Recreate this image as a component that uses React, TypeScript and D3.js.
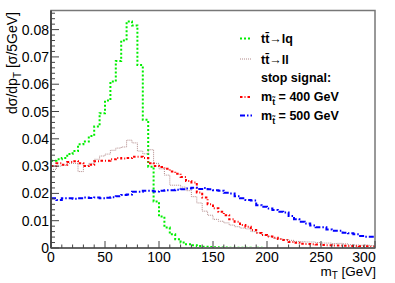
import React from 'react';
import * as d3 from 'd3';

// 5 GeV bins from 0 to 300 GeV, normalised distributions
const BIN_WIDTH = 5;
const TTBAR_LQ = [
  0.032, 0.0325, 0.033, 0.0344, 0.0355, 0.038, 0.039, 0.041, 0.0445, 0.0494,
  0.054, 0.061, 0.0685, 0.076, 0.083, 0.0815, 0.067, 0.047, 0.0298, 0.017,
  0.0115, 0.0075, 0.005, 0.0032, 0.002, 0.0014, 0.001, 0.0007, 0.0005, 0.0004,
  0.0003, 0.0002, 0.0002, 0.0001, 0.0001, 0.0001, 0.0001, 0, 0.0001, 0,
  0, 0, 0, 0, 0, 0, 0, 0, 0, 0,
  0, 0, 0, 0, 0, 0, 0, 0, 0, 0,
];
const TTBAR_LL = [
  0.0288, 0.030, 0.0303, 0.031, 0.031, 0.028, 0.0302, 0.031, 0.0325, 0.0337,
  0.0344, 0.0358, 0.0366, 0.037, 0.0395, 0.0385, 0.0355, 0.0345, 0.036, 0.031,
  0.029, 0.0267, 0.023, 0.023, 0.0223, 0.021, 0.0188, 0.0165, 0.0135, 0.012,
  0.0105, 0.0098, 0.0092, 0.0084, 0.0078, 0.0073, 0.007, 0.006, 0.0056, 0.0047,
  0.0043, 0.0036, 0.0033, 0.0031, 0.0028, 0.0024, 0.0023, 0.0022, 0.0022, 0.002,
  0.0018, 0.0018, 0.0016, 0.0017, 0.0015, 0.0012, 0.0011, 0.001, 0.0011, 0.0009,
];
const STOP_400 = [
  0.030, 0.031, 0.0305, 0.0315, 0.0318, 0.031, 0.030, 0.0305, 0.0318, 0.032,
  0.032, 0.0325, 0.033, 0.0328, 0.033, 0.0334, 0.0334, 0.033, 0.031, 0.030,
  0.0297, 0.029, 0.028, 0.0272, 0.026, 0.0245, 0.024, 0.0203, 0.0185, 0.016,
  0.0146, 0.0133, 0.012, 0.0105, 0.0096, 0.0084, 0.0078, 0.0066, 0.0055, 0.0048,
  0.0042, 0.0038, 0.0033, 0.0029, 0.0022, 0.0019, 0.0016, 0.0015, 0.0014, 0.0013,
  0.0011, 0.001, 0.0009, 0.0009, 0.0008, 0.0007, 0.0007, 0.0006, 0.0006, 0.0005,
];
const STOP_500 = [
  0.0182, 0.0176, 0.0182, 0.0182, 0.018, 0.0182, 0.0185, 0.0183, 0.0185, 0.0182,
  0.0184, 0.0186, 0.019, 0.0194, 0.0196, 0.0206, 0.0206, 0.021, 0.021, 0.0207,
  0.021, 0.0212, 0.0212, 0.0213, 0.0215, 0.0218, 0.0221, 0.0216, 0.022, 0.0215,
  0.0212, 0.021, 0.0202, 0.02, 0.019, 0.0182, 0.0176, 0.0174, 0.0157, 0.0151,
  0.0145, 0.0139, 0.0133, 0.013, 0.0117, 0.0105, 0.0096, 0.009, 0.0082, 0.0076,
  0.0076, 0.0068, 0.0063, 0.0063, 0.0056, 0.0054, 0.005, 0.0044, 0.0041, 0.0041,
];
const X_TICKS = [0, 50, 100, 150, 200, 250, 300];
const Y_TICKS = [0, 0.01, 0.02, 0.03, 0.04, 0.05, 0.06, 0.07, 0.08];

const W = 395, H = 283;
const M = { left: 51, right: 375, top: 10.5, bottom: 248 };
const FONT = 'Liberation Sans, Arial, Helvetica, sans-serif';

const SERIES = [
  { key: 'lq', values: TTBAR_LQ, color: '#00ee00', width: 2, dash: '2,2' },
  { key: 'll', values: TTBAR_LL, color: '#b08888', width: 1, dash: '1,1' },
  { key: 's400', values: STOP_400, color: '#ff0000', width: 2, dash: '2.5,2,1,2' },
  { key: 's500', values: STOP_500, color: '#0000ff', width: 2, dash: '5,2,1.5,2' },
];

export default function App() {
  const x = d3.scaleLinear().domain([0, 300]).range([M.left, M.right]);
  const y = d3.scaleLinear().domain([0, 0.087]).range([M.bottom, M.top]);

  const step = d3.line<[number, number]>()
    .x(d => x(d[0]))
    .y(d => y(d[1]))
    .curve(d3.curveStepAfter);

  const toPts = (vals: number[]): [number, number][] => {
    const pts: [number, number][] = vals.map((v, i) => [i * BIN_WIDTH, v]);
    pts.push([vals.length * BIN_WIDTH, vals[vals.length - 1]]);
    return pts;
  };

  const xMinor = d3.range(0, 301, 10);
  const yMinor = d3.range(0, 0.0861, 0.002);

  const legend = [
    { y: 38.5, s: SERIES[0] },
    { y: 59, s: SERIES[1] },
    { y: 97, s: SERIES[2] },
    { y: 115.5, s: SERIES[3] },
  ];

  return (
    <div style={{ position: 'absolute', left: 0, top: 0 }}>
      <svg width={W} height={H} style={{ display: 'block', background: '#fff' }}>
        {/* histograms */}
        {SERIES.map(s => (
          <path key={s.key} d={step(toPts(s.values)) || ''} fill="none"
            stroke={s.color} strokeWidth={s.width} strokeDasharray={s.dash} />
        ))}

        {/* frame */}
        <rect x={M.left} y={M.top} width={M.right - M.left} height={M.bottom - M.top}
          fill="none" stroke="#777" strokeWidth={1.5} />
        <line x1={M.left} x2={M.left} y1={M.top} y2={M.bottom} stroke="#333" strokeWidth={1.5} />
        <line x1={M.left} x2={M.right} y1={M.bottom} y2={M.bottom} stroke="#666" strokeWidth={2} />

        {/* x ticks */}
        {xMinor.map(v => (
          <line key={'xm' + v} x1={x(v)} x2={x(v)} y1={M.bottom}
            y2={M.bottom - (v % 50 === 0 ? 7 : 3.5)} stroke="#444" strokeWidth={1} />
        ))}
        {X_TICKS.map((v, i) => (
          <text key={'xl' + v} x={i === X_TICKS.length - 1 ? x(v) - 11 : x(v)} y={262}
            textAnchor="middle" fontFamily={FONT} fontSize={14} fill="#000">{v}</text>
        ))}

        {/* y ticks */}
        {yMinor.map((v, i) => (
          <line key={'ym' + i} x1={M.left} x2={M.left + (i % 5 === 0 ? 8 : 4)}
            y1={y(v)} y2={y(v)} stroke="#444" strokeWidth={1} />
        ))}
        {Y_TICKS.map(v => (
          <text key={'yl' + v} x={49} y={y(v) + 5} textAnchor="end"
            fontFamily={FONT} fontSize={14} fill="#000">{v === 0 ? '0' : v.toFixed(2)}</text>
        ))}

        {/* axis titles */}
        <text transform="translate(16.5,12) rotate(-90)" textAnchor="end"
          fontFamily={FONT} fontSize={14} fill="#000">
          dσ/dp<tspan fontSize={10} dy={4}>T</tspan><tspan dy={-4}> [σ/5GeV]</tspan>
        </text>
        <text x={376} y={276} textAnchor="end" fontFamily={FONT} fontSize={13.5} fill="#000">
          m<tspan fontSize={10} dy={3}>T</tspan><tspan dy={-3}> [GeV]</tspan>
        </text>

        {/* legend */}
        {legend.map(l => (
          <line key={'lg' + l.s.key} x1={240} x2={252} y1={l.y} y2={l.y}
            stroke={l.s.color} strokeWidth={l.s.width} strokeDasharray={l.s.dash} />
        ))}
        <g fontFamily={FONT} fontSize={12.5} fontWeight="bold" fill="#000">
          <text x={261} y={43}>tt{'\u0304'}→lq</text>
          <text x={261} y={64}>tt{'\u0304'}→ll</text>
          <text x={261} y={81.5}>stop signal:</text>
          <text x={261} y={101}>m<tspan fontSize={9} dy={4}>t{'\u0303'}</tspan><tspan dy={-4}> = 400 GeV</tspan></text>
          <text x={261} y={119.5}>m<tspan fontSize={9} dy={4}>t{'\u0303'}</tspan><tspan dy={-4}> = 500 GeV</tspan></text>
        </g>
      </svg>
    </div>
  );
}
